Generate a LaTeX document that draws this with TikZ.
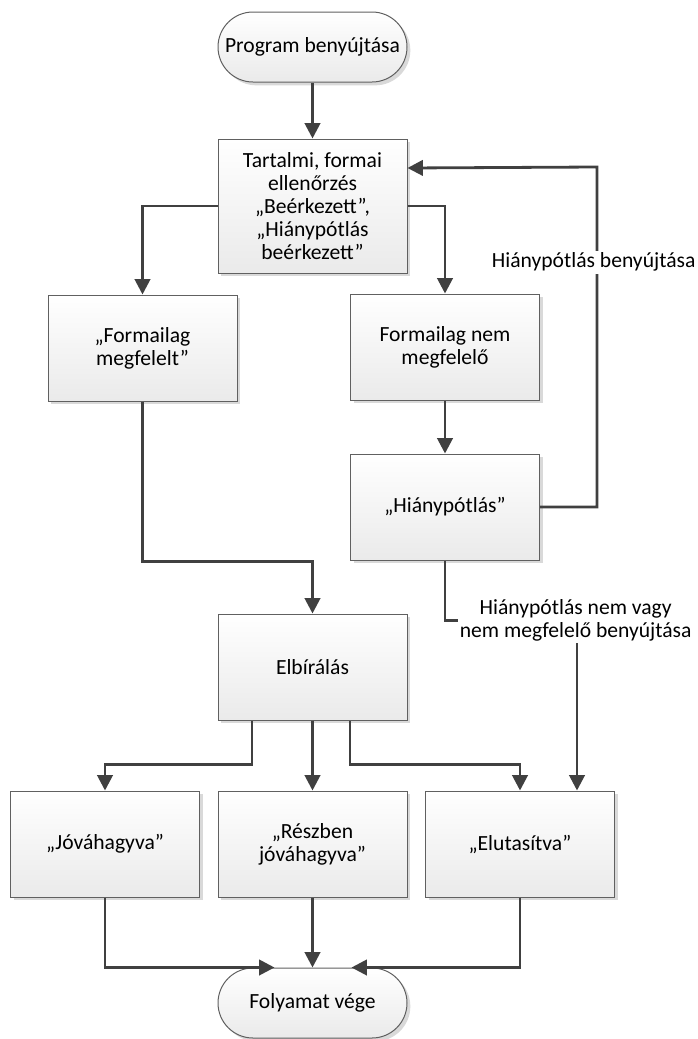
\documentclass[tikz,border=0pt]{standalone}
\usepackage{fontspec}
\setmainfont{Carlito}
\usetikzlibrary{arrows.meta,shadows}

\definecolor{linegray}{RGB}{64,64,64}
\definecolor{boxedge}{RGB}{96,96,96}
\definecolor{boxbottom}{RGB}{234,234,234}

\tikzset{
  proc/.style={rectangle, draw=boxedge, line width=0.75pt, top color=white, bottom color=boxbottom,
               drop shadow={shadow xshift=2.5pt, shadow yshift=-2.5pt, fill=black!25, opacity=0.6},
               minimum width=141.75pt, minimum height=79.5pt, align=center, inner sep=2pt},
  term/.style={proc, rounded corners=26.25pt, minimum height=52.5pt},
  flow/.style={->, draw=linegray, line width=2.1pt},
  lbl/.style={fill=white, inner sep=1.5pt, align=center}
}

\begin{document}
\begin{tikzpicture}[x=0.75pt, y=-0.75pt, >={Triangle[length=11.5pt,width=11.5pt]}, font=\fontsize{16.2pt}{17.25pt}\selectfont]

                      \useasboundingbox (0,0) rectangle (698,1039);

                      \node[term]  (start)    at (312.5,47)  {Program benyújtása};
                      \node[proc, minimum height=100.5pt] (check) at (312.5,206)
                                   {Tartalmi, formai\\ellenőrzés\\„Beérkezett”,\\„Hiánypótlás\\beérkezett”};
                      \node[proc]  (formok)   at (142.5,348) {„Formailag\\megfelelt”};
                      \node[proc]  (formnok)  at (445,347)   {Formailag nem\\megfelelő};
                      \node[proc]  (hiany)    at (445,507)   {„Hiánypótlás”};
                      \node[proc]  (elbiral)  at (312.5,667) {Elbírálás};
                      \node[proc]  (jovahagy) at (105,844)   {„Jóváhagyva”};
                      \node[proc]  (reszben)  at (312.5,844) {„Részben\\jóváhagyva”};
                      \node[proc]  (elutasit) at (520,844)   {„Elutasítva”};
                      \node[term]  (vege)     at (312.5,1003) {Folyamat vége};

                      \draw[flow] (start) -- (check);
                      \draw[flow] (check.west) -| (formok.north);
                      \draw[flow] (check.east) -| (formnok.north);
                      \draw[flow] (formnok) -- (hiany);
                      \draw[flow] (hiany.east) -- ++(57,0) -- ++(0,-340)
                                  node[lbl, pos=0.72, xshift=-2.5pt] {Hiánypótlás benyújtása} -- ([yshift=28.5pt]check.east);
                      \draw[flow] (formok.south) -- ++(0,160) -| (elbiral.north);
                      \draw[flow] (hiany.south) -- ++(0,60) -| node[lbl, xshift=-1pt] {Hiánypótlás nem vagy\\nem megfelelő benyújtása}
                                  ([xshift=42.75pt]elutasit.north);
                      \draw[flow] ([xshift=-45.4pt]elbiral.south) -- ++(0,44) -| (jovahagy.north);
                      \draw[flow] (elbiral) -- (reszben);
                      \draw[flow] ([xshift=28.1pt]elbiral.south) -- ++(0,44) -| (elutasit.north);
                      \draw[flow] (jovahagy.south) |- ([xshift=-28.5pt]vege.north);
                      \draw[flow] (reszben) -- (vege);
                      \draw[flow] (elutasit.south) |- ([xshift=29.25pt]vege.north);
\end{tikzpicture}
\end{document}
